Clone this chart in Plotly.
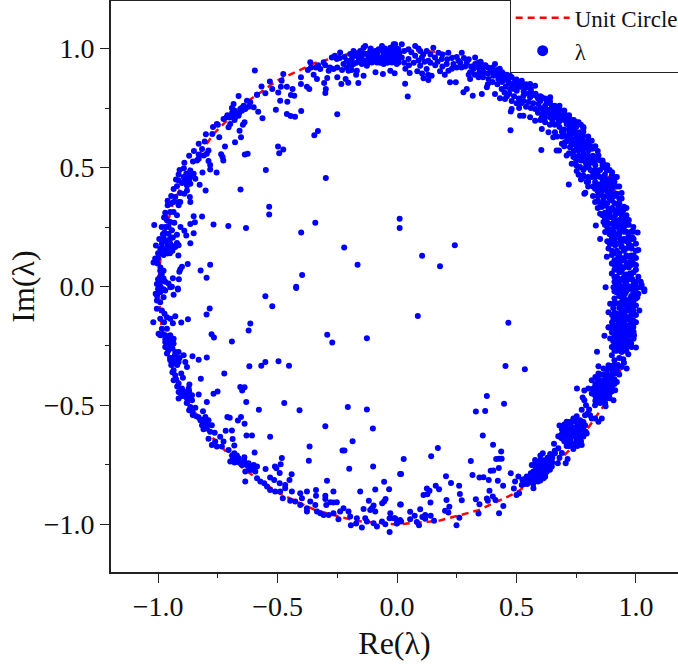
import plotly.graph_objects as go

# Unit circle read at regular steps
circle_re = [1.0,.985,.94,.866,.766,.643,.5,.342,.174,0,-.174,-.342,-.5,-.643,-.766,-.866,-.94,-.985,-1.0,-.985,-.94,-.866,-.766,-.643,-.5,-.342,-.174,0,.174,.342,.5,.643,.766,.866,.94,.985,1.0]
circle_im = [0,.174,.342,.5,.643,.766,.866,.94,.985,1.0,.985,.94,.866,.766,.643,.5,.342,.174,0,-.174,-.342,-.5,-.643,-.766,-.866,-.94,-.985,-1.0,-.985,-.94,-.866,-.766,-.643,-.5,-.342,-.174,0]

inner_upper_left = [(-.595,.908),(-.476,.893),(-.532,.862),(-.567,.841),(-.483,.865),(-.486,.84),(-.461,.84),(-.437,.83),(-.497,.815),(-.551,.812),(-.522,.83),(-.586,.806),(-.663,.801),(-.489,.781),(-.459,.777),(-.444,.805),(-.43,.802),(-.507,.743),(-.401,.738),(-.461,.725),(-.445,.717),(-.427,.714),(-.25,.724),(-.563,.707),(-.581,.734),(-.331,.654),(-.346,.636),(-.498,.588),(-.476,.576),(-.493,.56),(-.637,.555),(-.625,.558),(-.549,.49),(-.298,.456),(-.655,.408),(-.535,.335),(-.535,.303),(-.342,.268),(-.401,.227),(-.221,.164),(-.165,.091),(-.397,.048),(-.422,-.001),(.011,.285),(.011,.246),(-.632,.246),(-.706,.254),(-.768,.261),(-.816,.294),(-.851,.295),(-.846,.27),(-.865,.263),(-.851,.224),(-.865,.182),(-.72,.588),(-.678,.606),(-.653,.627),(-.659,.655),(-.645,.68),(-.638,.69),(-.744,.627),(-.773,.641),(-.754,.683),(-.736,.556),(-.727,.53),(-.73,.544),(-.789,.527),(-.782,.511),(-.782,.492),(-.755,.479),(-.814,.479),(-.826,.428),(-.801,.404),(-.867,.376),(-.865,.355),(-.782,.091),(-.822,.067),(-.797,.037),(-.876,.095),(-.915,.13),(-.906,.25),(-.89,.234),(-.882,.214),(-1.016,.259),(-1.009,.172),(-.938,.035),(-.913,.03),(-.917,-.008)]

inner_upper_right = [(.045,.799),(.034,.852),(.053,.897),(.475,.657),(.604,.574),(.668,.572),(.678,.572),(.719,.429),(.784,.39),(.788,.394),(.832,.256),(.85,.2),(.873,-.003),(.242,.173),(.105,.129),(.18,.085)]

inner_lower_right = [(.087,-.124),(.466,-.152),(.454,-.334),(.535,-.348),(.376,-.46),(.448,-.493),(.33,-.525),(.369,-.523),(.359,-.626),(.402,-.665),(.436,-.694),(.171,-.679),(.143,-.713),(.028,-.725),(.017,-.788),(.309,-.733),(.415,-.725),(.427,-.724),(.438,-.724),(.426,-.763),(.392,-.774),(.403,-.773),(.476,-.785),(.316,-.792),(.205,-.798),(.345,-.803),(.362,-.802),(.384,-.813),(.422,-.816),(.444,-.837),(.226,-.826),(.26,-.837),(.162,-.837),(.176,-.852),(.125,-.849),(.136,-.859),(.127,-.873),(.111,-.876),(.263,-.872),(.387,-.858),(.401,-.883),(.412,-.897),(.376,-.891),(.38,-.9),(.33,-.894),(.345,-.915),(.271,-.898),(.207,-.897),(.14,-.908),(.016,-.916),(.219,-.926),(.097,-.936),(.201,-.943),(.215,-.95),(.055,-.947),(.074,-.964),(.118,-.96),(.106,-.969),(.118,-.976),(.141,-.964),(.055,-.978),(.155,-.985),(.083,-.99),(.092,-1.004),(.261,-.972),(.341,-.954),(.249,-1.004),(.427,-.953),(.445,-.923),(-.008,-.974),(.006,-.988),(.017,-.988),(-.001,-.996),(.508,-.799),(.494,-.82),(.489,-.849),(.511,-.869),(.5,-.876),(.525,-.813),(.522,-.834),(.753,-.429),(.784,-.437),(.801,-.429),(.777,-.467),(.784,-.478),(.791,-.499),(.773,-.518),(.804,-.517),(.808,-.541),(.829,-.555),(.857,-.555),(.843,-.569),(.752,-.545),(.837,-.274),(.868,-.207),(.886,-.172),(1.0,-.256),(.968,-.285),(.992,-.205),(1.006,-.045),(1.035,-.02)]

inner_lower_left = [(-.551,-.041),(-.522,-.083),(-.422,-.006),(-.784,-.092),(-.797,-.118),(-.875,-.138),(-.903,-.151),(-.938,-.154),(-.928,-.125),(-1.02,-.15),(-.614,-.155),(-.621,-.185),(-.776,-.201),(-.766,-.214),(-.691,-.231),(-.292,-.203),(-.271,-.235),(-.126,-.218),(-.796,-.298),(-.83,-.308),(-.856,-.293),(-.618,-.335),(-.568,-.333),(-.551,-.317),(-.496,-.314),(-.452,-.333),(-.723,-.366),(-.821,-.388),(-.751,-.441),(-.768,-.451),(-.656,-.422),(-.638,-.423),(-.648,-.437),(-.796,-.485),(-.631,-.485),(-.472,-.49),(-.578,-.518),(-.408,-.52),(-.206,-.506),(-.126,-.517),(-.71,-.548),(-.7,-.552),(-.653,-.549),(-.666,-.563),(-.638,-.577),(-.3,-.587),(-.101,-.597),(-.717,-.606),(-.691,-.605),(-.63,-.626),(-.607,-.626),(-.531,-.631),(-.186,-.65),(-.688,-.641),(-.681,-.668),(-.366,-.672),(-.228,-.689),(-.22,-.689),(-.596,-.698),(-.482,-.721),(-.369,-.732),(-.487,-.747),(-.511,-.757),(-.505,-.764),(-.2,-.766),(-.1,-.757),(-.55,-.767),(-.491,-.784),(-.441,-.789),(-.45,-.813),(.013,-.788),(-.293,-.816),(-.054,-.821),(-.091,-.853),(-.033,-.852),(-.266,-.862),(-.154,-.862),(-.118,-.9),(-.048,-.893),(-.054,-.904),(-.062,-.911),(.013,-.916),(-.098,-.921),(-.105,-.932),(-.14,-.935),(-.112,-.939),(-.031,-1.032),(-.635,-.82),(-.339,-.855),(-.339,-.879),(-.3,-.879),(-.3,-.893),(-.279,-.907),(-.266,-.908),(-.252,-.907),(-.296,-.918)]

band_left_upper = [(-.97,.292),(-.963,.278),(-.949,.271),(-.932,.268),(-.97,.25),(-.956,.25),(-.942,.236),(-.973,.227),(-.956,.222),(-.921,.218),(-.938,.206),(-.977,.206),(-.963,.192),(-.984,.18),(-.949,.18),(-.921,.183),(-.991,.159),(-.97,.159),(-.952,.159),(-.928,.166),(-.914,.173),(-.991,.139),(-.977,.132),(-.96,.139),(-1.012,.118),(-1.019,.101),(-1.002,.097),(-.991,.066),(-.977,.066),(-.9,.083),(-.907,.072),(-.911,.062),(-.991,.041),(-.977,.034),(-.991,.02),(-.97,.02),(-.956,.013),(-.942,-.001),(-.991,-.012),(-.977,-.012),(-.928,.376),(-.949,.348),(-.96,.341),(-.935,.355),(-.914,.355),(-.907,.355),(-.914,.341),(-.949,.313),(-.935,.313),(-.921,.299),(-.892,.497),(-.882,.474),(-.865,.488),(-.851,.474),(-.914,.471),(-.914,.446),(-.893,.46),(-.879,.446),(-.865,.46),(-.844,.453),(-.921,.421),(-.9,.435),(-.879,.425),(-.865,.432),(-.879,.404),(-.907,.393),(-.89,.39),(-.854,.525),(-.83,.555),(-.83,.537),(-.816,.578),(-.805,.609),(-.796,.558),(-.789,.572),(-.809,.551),(-.837,.53),(-.726,.704),(-.712,.711),(-.698,.718),(-.684,.725),(-.67,.732),(-.656,.746),(-.642,.76),(-.628,.781),(-.614,.774),(-.684,.767),(-.691,.75),(-.698,.683),(-.705,.669),(-.677,.711),(-.663,.718),(-.649,.739),(-.635,.746),(-.621,.756),(-.6,.753),(-.586,.806)]

band_top_left = [(-.363,.943),(-.373,.91),(-.349,.89),(-.335,.872),(-.402,.879),(-.402,.851),(-.377,.84),(-.367,.83),(-.305,.855),(-.298,.83),(-.3,.813),(-.292,.876),(-.25,.879),(-.233,.851),(-.215,.872),(-.204,.856),(-.162,.855),(-.171,.89),(-.14,.886),(-.09,.9),(-.059,.893),(-.01,.896),(-.028,.907),(-.321,.914),(-.307,.942),(-.286,.907),(-.266,.914),(-.273,.963),(-.238,.984),(-.252,.956),(-.224,.935),(-.196,.977),(-.182,.99),(-.161,.963),(-.14,1.004),(-.133,1.011),(-.112,.99),(-.098,.963),(-.084,.977),(-.063,1.011),(-.042,.99),(-.014,1.018),(0,.977),(-.021,.942),(-.056,.935),(-.126,.928),(-.182,.935),(-.168,.907),(-.203,.907),(-.175,.97),(-.154,.99),(-.147,.97),(-.126,.977),(-.119,.956),(-.105,.977),(-.091,.99),(-.077,.997),(-.07,.963),(-.056,.977),(-.049,.956),(-.035,.97),(-.028,1.004),(-.014,.99),(-.007,.956),(.006,.997),(.006,.942),(-.084,.942),(-.105,.942),(-.147,.935),(-.14,.949),(-.189,.956)]

band_upper_right = [(-.008,1.018),(.02,1.018),(.048,.997),(.076,1.011),(.097,.99),(.124,.99),(.152,1.004),(.173,.983),(.215,.983),(.271,.983),(.327,.963),(.41,.935),(.02,.963),(-.001,.935),(.048,.956),(.076,.97),(.104,.963),(.131,.949),(.159,.963),(.187,.956),(.208,.935),(.236,.935),(.257,.949),(.292,.942),(.327,.935),(.215,.907),(.25,.921),(.32,.914),(.097,.928),(.124,.914),(.145,.886),(.111,.875),(.131,.868),(.222,.858),(.246,.858),(.278,.816),(.292,.83),(.317,.802),(.306,.872),(.306,.9),(.355,.809),(.341,.879),(.362,.9),(.383,.872),(.403,.886),(.424,.872),(.445,.893),(.473,.886),(.466,.858),(.494,.865),(.522,.865),(.557,.851),(.578,.844),(.376,.837),(.41,.809),(.431,.791),(.452,.788),(.438,.83),(.473,.83),(.501,.823),(.529,.802),(.557,.795),(.48,.746),(.476,.736),(.511,.75),(.515,.718),(.529,.718),(.557,.711),(.578,.697),(.606,.662),(.592,.767),(.606,.795),(.641,.795),(.627,.774),(.578,.746),(.613,.739),(.648,.753),(.675,.732),(.703,.718),(.724,.704),(.752,.69),(.78,.665),(.606,.711),(.641,.711),(.675,.69),(.71,.683),(.738,.669),(.634,.648),(.661,.648),(.696,.648),(.731,.641),(.766,.648),(.654,.627),(.703,.606),(.752,.606),(.787,.606),(.815,.613),(.724,.585),(.759,.572),(.801,.572),(.843,.551),(.71,.551),(.738,.544),(.773,.544),(.822,.53),(.864,.516),(.731,.516),(.766,.502),(.801,.502),(.836,.488),(.878,.488),(.752,.485),(.78,.467),(.815,.46),(.85,.46),(.899,.467),(.92,.46),(.794,.439),(.829,.439),(.871,.432),(.899,.425),(.829,.411),(.857,.397),(.892,.404),(.92,.39),(.94,.393),(.829,.355),(.864,.362),(.899,.362),(.926,.334),(.857,.334),(.885,.327),(.947,.32),(.85,.306),(.885,.292),(.913,.299),(.954,.285),(.864,.271),(.899,.264),(.933,.257),(.968,.278),(.871,.229),(.906,.229),(.94,.236),(.989,.25),(1.007,.227),(.899,.201),(.933,.201),(.968,.208),(.985,.206),(.885,.16),(.913,.173),(.94,.166),(.982,.16),(1.01,.153),(.878,.125),(.899,.132),(.926,.125),(.968,.125),(.899,.097),(.933,.09),(.989,.097),(.899,.055),(.94,.062),(.975,.055),(1.01,.041),(.913,.02),(.954,.02),(.996,.013),(.913,-.001),(.954,-.008),(.989,-.008),(1.024,.006),(1.035,-.012)]

band_lower_right = [(.906,-.003),(.94,-.003),(.982,-.003),(1.017,-.003),(.919,-.024),(.954,-.031),(.989,-.024),(.94,-.045),(.975,-.052),(.892,-.073),(.94,-.066),(.968,-.08),(.885,-.108),(.92,-.115),(.954,-.108),(.989,-.101),(1.014,-.101),(.906,-.136),(.94,-.136),(.968,-.129),(.989,-.143),(.885,-.171),(.913,-.164),(.94,-.164),(.968,-.164),(.989,-.171),(.899,-.192),(.926,-.192),(.954,-.192),(.982,-.205),(.892,-.219),(.92,-.226),(.947,-.219),(.975,-.233),(.899,-.254),(.926,-.254),(.954,-.247),(.982,-.254),(.94,-.275),(.899,-.289),(.947,-.306),(.885,-.331),(.906,-.331),(.843,-.335),(.864,-.345),(.94,-.338),(.961,-.345),(.843,-.366),(.878,-.366),(.913,-.366),(.815,-.394),(.85,-.394),(.885,-.394),(.92,-.401),(.829,-.422),(.864,-.422),(.899,-.422),(.815,-.45),(.85,-.45),(.885,-.45),(.913,-.436),(.836,-.478),(.864,-.478),(.906,-.478),(.829,-.499),(.873,-.503),(.871,-.492),(.71,-.569),(.738,-.555),(.766,-.562),(.717,-.59),(.752,-.59),(.787,-.583),(.703,-.618),(.731,-.618),(.766,-.618),(.794,-.618),(.689,-.638),(.724,-.645),(.759,-.638),(.71,-.659),(.745,-.666),(.773,-.666),(.738,-.683),(.787,-.541),(.815,-.555),(.798,-.534),(.578,-.729),(.606,-.729),(.564,-.75),(.592,-.757),(.627,-.75),(.648,-.757),(.571,-.778),(.599,-.785),(.627,-.778),(.585,-.806),(.613,-.806),(.543,-.799),(.564,-.82),(.529,-.831),(.571,-.848),(.641,-.704),(.61,-.701),(.675,-.68),(.661,-.701),(.673,-.743),(.706,-.743),(.714,-.725),(.657,-.661),(.68,-.584),(.675,-.629)]

band_lower_left = [(-1.005,-.038),(-.991,-.024),(-.97,-.017),(-.949,-.003),(-.917,-.013),(-.935,-.035),(-1.005,-.059),(-.991,-.066),(-.977,-.045),(-1.005,-.094),(-.984,-.101),(-.973,-.115),(-.991,-.136),(-.963,-.129),(-.949,-.136),(-.998,-.199),(-.984,-.178),(-.963,-.178),(-.991,-.205),(-.97,-.205),(-.949,-.205),(-.935,-.22),(-.97,-.233),(-.949,-.24),(-.935,-.24),(-.97,-.254),(-.956,-.268),(-.963,-.282),(-.928,-.275),(-.914,-.275),(-.893,-.289),(-.949,-.31),(-.935,-.324),(-.914,-.317),(-.886,-.317),(-.879,-.338),(-.935,-.352),(-.903,-.366),(-.928,-.373),(-.896,-.384),(-.935,-.394),(-.914,-.408),(-.869,-.412),(-.9,-.429),(-.872,-.429),(-.914,-.443),(-.886,-.443),(-.858,-.457),(-.83,-.454),(-.914,-.471),(-.879,-.471),(-.858,-.478),(-.865,-.506),(-.844,-.51),(-.858,-.524),(-.812,-.524),(-.84,-.545),(-.802,-.548),(-.823,-.562),(-.789,-.562),(-.816,-.583),(-.775,-.583),(-.796,-.597),(-.782,-.61),(-.763,-.615),(-.789,-.64),(-.775,-.666),(-.761,-.652),(-.74,-.631),(-.726,-.652),(-.754,-.673),(-.733,-.673),(-.705,-.687),(-.681,-.701),(-.687,-.722),(-.663,-.722),(-.639,-.718),(-.698,-.736),(-.673,-.736),(-.649,-.75),(-.621,-.743),(-.6,-.75),(-.586,-.757),(-.635,-.778),(-.614,-.771),(-.593,-.778),(-.586,-.806),(-.572,-.82),(-.556,-.827),(-.544,-.841),(-.531,-.803),(-.514,-.813),(-.491,-.827),(-.468,-.834),(-.531,-.855),(-.51,-.862),(-.489,-.862),(-.468,-.848),(-.478,-.89),(-.44,-.862),(-.447,-.9),(-.426,-.904),(-.405,-.869),(-.377,-.862),(-.398,-.89),(-.363,-.904),(-.342,-.918),(-.405,-.918),(-.377,-.932),(-.335,-.946),(-.321,-.953),(-.377,-.946),(-.307,-.96),(-.286,-.96),(-.266,-.953),(-.245,-.978),(-.238,-.946),(-.224,-.932),(-.203,-.946),(-.196,-.967),(-.193,-1.004),(-.168,-.974),(-.171,-.996),(-.147,-1.013),(-.133,-.974),(-.126,-.988),(-.091,-.946),(-.098,-.995),(-.084,-1.009),(-.063,-.988),(-.049,-.999),(-.028,-.953),(-.014,-.974),(0,-.995),(.013,-.981),(-.031,-.974)]

dense_upper_right = [(.03,.99),(.06,.985),(.09,1.0),(.11,.975),(.14,.975),(.17,.945),(.19,.975),(.21,.955),(.23,.96),(.25,.965),(.28,.96),(.30,.955),(.31,.925),(.27,.92),(.23,.915),(.19,.925),(.16,.93),(.14,.94),(.115,.945),(.09,.95),(.07,.94),(.05,.93),(.03,.94),(.01,.96),(.035,.915),(.085,.905),(.105,.895),(.13,.89),(.18,.905),(.2,.89),(.34,.92),(.35,.945),(.37,.93),(.39,.915),(.41,.905),(.43,.915),(.36,.88),(.38,.85),(.4,.86),(.42,.85),(.44,.86),(.46,.87),(.48,.85),(.5,.85),(.52,.84),(.54,.835),(.56,.83),(.45,.815),(.47,.81),(.49,.8),(.51,.79),(.53,.78),(.55,.775),(.57,.77),(.59,.79),(.6,.78),(.62,.76),(.64,.77),(.66,.75),(.68,.745),(.7,.73),(.59,.73),(.61,.72),(.63,.73),(.65,.72),(.67,.71),(.69,.71),(.71,.7),(.73,.69),(.75,.67),(.77,.68),(.62,.69),(.64,.68),(.66,.68),(.68,.67),(.7,.66),(.72,.66),(.74,.65),(.76,.63),(.78,.63),(.8,.63),(.67,.63),(.69,.63),(.71,.63),(.73,.62),(.75,.625),(.77,.6),(.79,.59),(.81,.59),(.7,.59),(.74,.6),(.76,.59),(.78,.58),(.72,.56),(.74,.57),(.78,.56),(.8,.55),(.82,.55),(.84,.57),(.75,.53),(.79,.52),(.81,.52),(.83,.51),(.85,.53),(.87,.5),(.89,.49),(.75,.51),(.78,.49),(.82,.48),(.85,.49),(.87,.47),(.9,.45),(.77,.45),(.8,.46),(.83,.46),(.86,.44),(.88,.45),(.8,.42),(.85,.42),(.87,.41),(.91,.44),(.84,.38),(.86,.38),(.88,.38),(.9,.39),(.93,.37),(.82,.38),(.84,.36),(.88,.35),(.91,.35),(.93,.35),(.95,.335),(.84,.33),(.87,.31),(.9,.33),(.92,.31),(.94,.3),(.96,.3),(.87,.29),(.9,.29),(.93,.28),(.95,.27),(.97,.26),(.88,.25),(.91,.25),(.95,.25),(.98,.23),(.89,.22),(.92,.22),(.96,.23),(.99,.2),(.88,.19),(.91,.2),(.95,.2),(.97,.18),(1.0,.18),(.9,.18),(.92,.15),(.95,.15),(.98,.13),(.9,.15),(.94,.12),(.99,.13),(1.0,.12),(.91,.11),(.95,.11),(.97,.1),(.92,.08),(.95,.08),(.97,.08),(1.0,.07),(.91,.07),(.93,.06),(.96,.05),(.99,.06),(.92,.04),(.94,.03),(.97,.03),(1.0,.02),(.93,.01),(.97,.0),(1.0,.0)]

dense_lower_right = [(.92,-.01),(.93,-.04),(.96,-.02),(.97,-.01),(1.0,-.01),(1.01,-.03),(.91,-.05),(.92,-.07),(.95,-.05),(.96,-.06),(.98,-.07),(1.0,-.05),(.905,-.09),(.93,-.09),(.97,-.1),(1.0,-.08),(.9,-.12),(.93,-.12),(.95,-.12),(.98,-.12),(1.0,-.12),(.9,-.15),(.92,-.14),(.95,-.15),(.97,-.14),(.99,-.155),(.91,-.18),(.93,-.17),(.96,-.18),(.98,-.185),(.91,-.205),(.94,-.2),(.965,-.21),(.99,-.19),(.905,-.23),(.93,-.24),(.96,-.23),(.91,-.25),(.94,-.25),(.97,-.25),(.92,-.27),(.96,-.27),(.91,-.31),(.93,-.3),(.925,-.33),(.95,-.32),(.9,-.35),(.92,-.35),(.88,-.35),(.86,-.37),(.89,-.38),(.93,-.37),(.87,-.39),(.83,-.38),(.9,-.39),(.86,-.4),(.84,-.41),(.88,-.41),(.91,-.41),(.85,-.43),(.88,-.43),(.82,-.43),(.84,-.44),(.87,-.45),(.9,-.44),(.83,-.46),(.86,-.46),(.89,-.47),(.85,-.49),(.88,-.47),(.83,-.48),(.69,-.6),(.72,-.57),(.75,-.57),(.78,-.57),(.73,-.59),(.77,-.6),(.69,-.62),(.72,-.61),(.75,-.61),(.78,-.6),(.71,-.63),(.74,-.63),(.77,-.63),(.7,-.65),(.73,-.66),(.76,-.65),(.72,-.67),(.755,-.67),(.73,-.63),(.74,-.6),(.59,-.74),(.61,-.74),(.63,-.74),(.65,-.74),(.58,-.76),(.6,-.75),(.62,-.77),(.64,-.77),(.58,-.79),(.6,-.8),(.62,-.79),(.57,-.8),(.59,-.82),(.55,-.81),(.57,-.83),(.56,-.785),(.53,-.81),(.545,-.83),(.6,-.71),(.63,-.72),(.69,-.7),(.68,-.72),(.66,-.69),(.65,-.72)]

dense_top_left = [(-.26,.97),(-.24,.96),(-.22,.965),(-.21,.95),(-.2,.94),(-.19,.93),(-.17,.94),(-.16,.95),(-.15,.95),(-.13,.95),(-.12,.94),(-.11,.96),(-.1,.95),(-.09,.97),(-.08,.96),(-.07,.94),(-.06,.95),(-.05,.975),(-.04,.94),(-.03,.96),(-.02,.97),(-.01,.96),(0,.96),(.01,.98),(-.02,1.0),(-.05,1.0),(-.08,.99),(-.11,1.0),(-.15,.97),(-.17,.98),(-.14,.98),(-.12,.97),(-.06,.99),(-.03,.98),(0,1.0),(-.28,.92),(-.25,.92),(-.23,.91),(-.3,.93),(-.33,.93),(-.34,.92),(-.36,.92),(-.21,.92),(-.19,.91)]

dense_left = [(-.71,.72),(-.69,.73),(-.68,.74),(-.66,.73),(-.65,.75),(-.7,.71),(-.68,.7),(-.67,.72),(-.88,.46),(-.87,.47),(-.87,.45),(-.89,.44),(-.88,.43),(-.97,.19),(-.95,.2),(-.96,.17),(-.94,.17),(-.98,.16),(-.96,.15),(-.94,.15),(-.97,.14),(-.95,.14),(-.9,-.44),(-.88,-.45),(-.89,-.46),(-.87,-.47),(-.87,-.44),(-.9,-.46),(-.94,-.3),(-.93,-.29),(-.92,-.3),(-.91,-.3),(-.93,-.31),(-.92,-.33),(-.81,-.56),(-.8,-.57),(-.8,-.58),(-.79,-.58),(-.81,-.6),(-.69,-.71),(-.67,-.71),(-.68,-.74),(-.66,-.74),(-.64,-.73),(-.62,-.76),(-.6,-.77),(-.63,-.75),(-.98,-.2),(-.96,-.22),(-.96,-.24),(-.95,-.22),(-.955,-.25),(-.94,-.26)]

extra_upper_right = [(.265,.94),(.285,.925),(.3,.89),(.325,.89),(.345,.9),(.36,.92),(.38,.895),(.4,.9),(.42,.89),(.44,.88),(.455,.84),(.47,.855),(.49,.83),(.51,.84),(.53,.82),(.55,.81),(.57,.805),(.585,.8),(.46,.8),(.48,.78),(.5,.77),(.52,.77),(.54,.755),(.56,.75),(.6,.75),(.625,.745),(.64,.74),(.66,.73),(.68,.72),(.7,.7),(.72,.68),(.74,.68),(.6,.7),(.62,.71),(.65,.7),(.68,.695),(.72,.64),(.69,.65),(.75,.645),(.78,.65),(.8,.6),(.83,.59),(.77,.62),(.69,.6),(.71,.61),(.73,.6),(.75,.59),(.74,.55),(.76,.55),(.77,.53),(.79,.54),(.81,.53),(.83,.53),(.86,.51),(.79,.5),(.81,.49),(.83,.49),(.84,.47),(.87,.45),(.89,.43),(.76,.47),(.78,.46),(.8,.44),(.82,.42),(.84,.43),(.86,.41),(.88,.42),(.9,.41),(.92,.42),(.84,.4),(.88,.4),(.91,.38),(.86,.35),(.89,.37),(.93,.33),(.85,.35),(.87,.34),(.89,.31),(.91,.32),(.93,.31),(.86,.3),(.88,.27),(.91,.28),(.92,.26),(.94,.26),(.96,.26),(.87,.26),(.89,.24),(.93,.24),(.95,.23),(.97,.21),(.9,.21),(.93,.22),(.94,.19),(.96,.19),(.98,.2),(.89,.18),(.92,.18),(.94,.17),(.96,.16),(.98,.17),(1.0,.15),(.91,.14),(.93,.14),(.96,.13),(.98,.11),(1.0,.09),(.92,.11),(.93,.1),(.96,.09),(.98,.09),(.91,.09),(.94,.07),(.98,.05),(.91,.04),(.95,.04),(.98,.03),(1.02,.02),(.93,.03),(.96,.01),(.99,.01),(.91,.02),(.94,.0),(.985,.03)]

extra_lower_right = [(.91,-.02),(.94,-.02),(.98,-.04),(1.0,-.03),(.91,-.07),(.94,-.08),(.96,-.08),(.99,-.06),(.91,-.11),(.94,-.1),(.96,-.1),(.98,-.09),(.91,-.13),(.93,-.15),(.96,-.13),(.98,-.15),(1.0,-.15),(.9,-.17),(.92,-.17),(.95,-.17),(.97,-.17),(.98,-.17),(.92,-.19),(.94,-.18),(.97,-.19),(.91,-.22),(.93,-.21),(.95,-.21),(.97,-.23),(.99,-.22),(.92,-.23),(.94,-.23),(.95,-.24),(.98,-.24),(.91,-.27),(.93,-.26),(.95,-.26),(.89,-.34),(.91,-.36),(.9,-.37),(.87,-.37),(.84,-.39),(.85,-.37),(.88,-.39),(.91,-.39),(.83,-.41),(.85,-.41),(.87,-.42),(.9,-.41),(.83,-.44),(.86,-.44),(.88,-.45),(.84,-.46),(.82,-.45),(.85,-.47),(.87,-.49),(.89,-.45),(.7,-.58),(.73,-.57),(.76,-.58),(.78,-.59),(.71,-.6),(.73,-.61),(.76,-.6),(.79,-.61),(.68,-.63),(.72,-.63),(.75,-.63),(.78,-.63),(.72,-.65),(.75,-.65),(.77,-.65),(.74,-.67),(.71,-.67),(.6,-.73),(.62,-.73),(.64,-.74),(.6,-.76),(.62,-.75),(.63,-.76),(.585,-.77),(.61,-.78),(.6,-.78),(.62,-.8),(.58,-.81),(.6,-.815),(.56,-.81),(.58,-.74)]

outer_rim = [(-1.0,.03),(-1.005,.01),(-1.0,-.01),(-1.01,-.03),(-.99,.0),(-.985,.05),(-.99,.08),(-1.0,.12),(-1.0,.14),(-.98,.22),(-.985,.25),(-.995,.2),(-.975,.29),(-.97,.31),(-.96,.36),(-.945,.38),(-.935,.41),(-.925,.45),(-.91,.49),(-.89,.52),(-.87,.55),(-.85,.57),(-.83,.6),(-.8,.64),(-.77,.67),(-.75,.68),(-.975,-.15),(-.97,-.22),(-.96,-.26),(-.95,-.3),(-.945,-.33),(-.94,-.36),(-.925,-.39),(-.92,-.42),(-.905,-.45),(-.88,-.49),(-.87,-.52),(-.855,-.54),(-.83,-.55),(.56,.82),(.58,.81),(.6,.8),(.62,.79),(.64,.78),(.66,.76),(.68,.76),(.7,.74),(.72,.72),(.74,.7),(.76,.69),(.78,.67),(.8,.61),(.82,.58),(.84,.55),(.86,.53),(.88,.51),(.9,.48),(.91,.46),(.93,.42),(.94,.37),(.96,.33),(.97,.28),(.99,.23),(.44,.9),(.46,.89),(.48,.88),(.5,.87),(.52,.86),(.54,.85),(.34,.94),(.36,.93),(.38,.92),(.4,.92),(.42,.91)]

tick_values = [-1.0, -0.5, 0.0, 0.5, 1.0]
all_points = (inner_upper_left + inner_upper_right + inner_lower_right + inner_lower_left
              + band_left_upper + band_top_left + band_upper_right + band_lower_right + band_lower_left
              + dense_upper_right + dense_lower_right + dense_top_left + dense_left
              + extra_upper_right + extra_lower_right + outer_rim)
eig_re = [p[0] for p in all_points]
eig_im = [p[1] for p in all_points]

FONT = "Liberation Serif"
fig = go.Figure()
fig.add_trace(go.Scatter(x=circle_re, y=circle_im, mode="lines", name="Unit Circle",
                         line=dict(color="#ff0000", width=2.5, dash="7px,5px")))
fig.add_trace(go.Scatter(x=eig_re, y=eig_im, mode="markers", showlegend=False,
                         marker=dict(color="#0000ff", size=6, line=dict(width=0))))
fig.add_trace(go.Scatter(x=[None], y=[None], mode="markers", name="λ",
                         marker=dict(color="#0000ff", size=11, line=dict(width=0))))

axis = dict(tickvals=tick_values, tickformat=".1f", ticks="outside", ticklen=9, tickwidth=1.3,
            tickcolor="#222", showline=True, linecolor="#222", linewidth=1.6, showgrid=False,
            zeroline=False, tickfont=dict(family=FONT, size=28, color="#111"),
            minor=dict(tickvals=[-1.0,-.75,-.5,-.25,0,.25,.5,.75,1.0], ticks="outside", ticklen=4.5, tickwidth=1.3, tickcolor="#222"))
fig.update_layout(
    width=678, height=664, autosize=False,
    margin=dict(l=111, r=0, t=1, b=92, autoexpand=False), plot_bgcolor="white", paper_bgcolor="white",
    xaxis=dict(axis, range=[-1.197, 1.176], mirror=True,
               title=dict(text="Re(λ)", font=dict(family=FONT, size=32, color="#111"), standoff=10)),
    yaxis=dict(axis, range=[-1.2, 1.2],
               title=dict(text="Im(λ)", font=dict(family=FONT, size=32, color="#111"), standoff=0)),
    legend=dict(x=1.01, y=1.01, xanchor="right", yanchor="top", bgcolor="white", bordercolor="#222",
                borderwidth=1, font=dict(family=FONT, size=23, color="#111"), itemwidth=54, tracegroupgap=0),
)
fig.write_html("out.html", config=dict(displayModeBar=False),
               post_script="document.body.style.margin='0';document.documentElement.style.overflow='hidden';")
